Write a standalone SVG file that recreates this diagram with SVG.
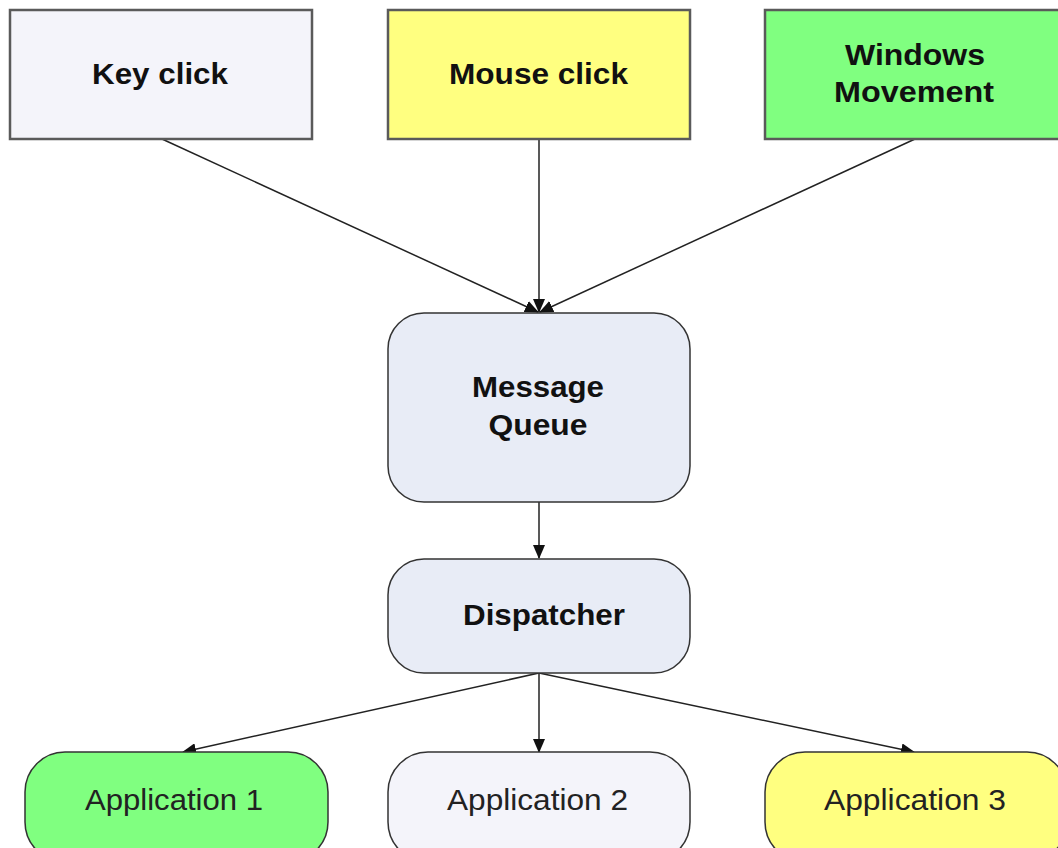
<svg xmlns="http://www.w3.org/2000/svg" width="1058" height="848" viewBox="0 0 1058 848">
<style>
.sq{stroke:#5a5a5a;stroke-width:2.5}
.rd{stroke:#333;stroke-width:1.5}
.b{font-family:"Liberation Sans",Arial,sans-serif;font-weight:bold;font-size:29px;fill:#111;text-anchor:middle}
.r{font-family:"Liberation Sans",Arial,sans-serif;font-size:30px;fill:#222;text-anchor:middle}
.c{stroke:#222;stroke-width:1.5;fill:none;marker-end:url(#ah)}
</style>
<defs>
<marker id="ah" markerWidth="14" markerHeight="12" refX="13" refY="6" orient="auto" markerUnits="userSpaceOnUse">
<path d="M0,0 L14,6 L0,12 Z" fill="#111"/>
</marker>
</defs>
<rect width="1058" height="848" fill="#fff"/>
<g id="connectors">
<line class="c" x1="162" y1="139" x2="538" y2="312"/>
<line class="c" x1="539" y1="139" x2="539" y2="312"/>
<line class="c" x1="915" y1="139" x2="540" y2="312"/>
<line class="c" x1="539" y1="502" x2="539" y2="558"/>
<line class="c" x1="539" y1="673" x2="183" y2="752"/>
<line class="c" x1="539" y1="673" x2="539" y2="752"/>
<line class="c" x1="539" y1="673" x2="914" y2="752"/>
</g>
<g id="keyclick">
<rect class="sq" x="10" y="10" width="302" height="129" fill="#f4f4fa"/>
<text class="b" x="160" y="84" textLength="136" lengthAdjust="spacingAndGlyphs">Key click</text>
</g>
<g id="mouseclick">
<rect class="sq" x="388" y="10" width="302" height="129" fill="#ffff80"/>
<text class="b" x="538.5" y="84" textLength="179" lengthAdjust="spacingAndGlyphs">Mouse click</text>
</g>
<g id="windowsmovement">
<rect class="sq" x="765" y="10" width="302" height="129" fill="#80ff80"/>
<text class="b" x="915" y="65" textLength="140" lengthAdjust="spacingAndGlyphs">Windows</text>
<text class="b" x="914" y="102" textLength="160" lengthAdjust="spacingAndGlyphs">Movement</text>
</g>
<g id="messagequeue">
<rect class="rd" x="388" y="313" width="302" height="189" rx="36" ry="36" fill="#e8ecf6"/>
<text class="b" x="538" y="397" textLength="132" lengthAdjust="spacingAndGlyphs">Message</text>
<text class="b" x="538" y="435" textLength="99" lengthAdjust="spacingAndGlyphs">Queue</text>
</g>
<g id="dispatcher">
<rect class="rd" x="388" y="559" width="302" height="114" rx="36" ry="36" fill="#e8ecf6"/>
<text class="b" x="544" y="625" textLength="162" lengthAdjust="spacingAndGlyphs">Dispatcher</text>
</g>
<g id="app1">
<rect class="rd" x="25" y="752" width="303" height="110" rx="40" ry="40" fill="#80ff80"/>
<text class="r" x="174" y="810" textLength="178" lengthAdjust="spacingAndGlyphs">Application 1</text>
</g>
<g id="app2">
<rect class="rd" x="388" y="752" width="302" height="110" rx="40" ry="40" fill="#f4f4fa"/>
<text class="r" x="537.5" y="810" textLength="181" lengthAdjust="spacingAndGlyphs">Application 2</text>
</g>
<g id="app3">
<rect class="rd" x="765" y="752" width="302" height="110" rx="40" ry="40" fill="#ffff80"/>
<text class="r" x="915" y="810" textLength="182" lengthAdjust="spacingAndGlyphs">Application 3</text>
</g>
</svg>
